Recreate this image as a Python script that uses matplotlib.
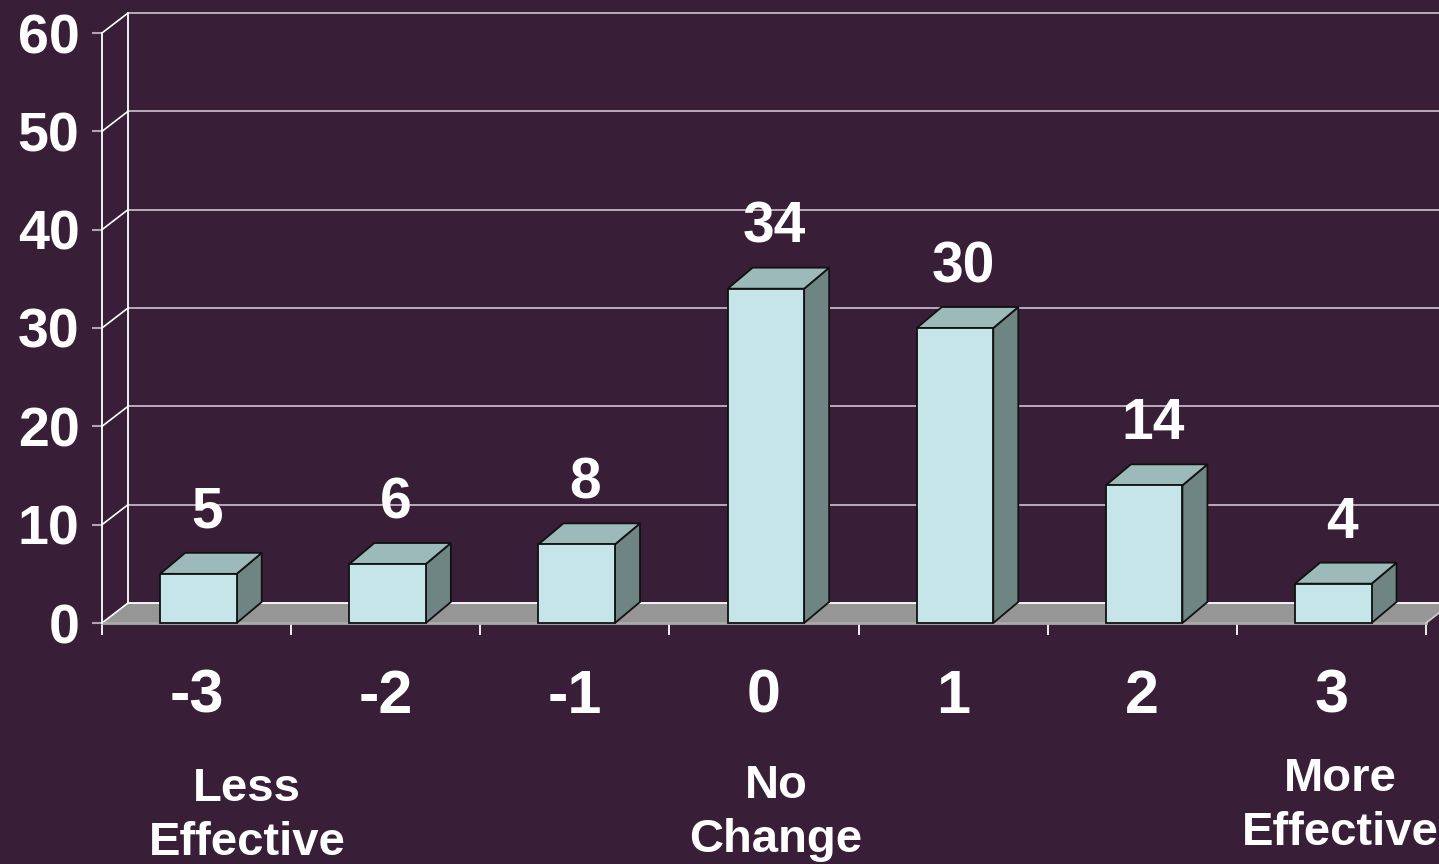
import matplotlib
matplotlib.use('Agg')
import matplotlib.pyplot as plt
from matplotlib.patches import Polygon, Rectangle
import numpy as np

plt.rcParams['font.family'] = ['Liberation Sans', 'DejaVu Sans']

# ---- data ----
categories = ['-3', '-2', '-1', '0', '1', '2', '3']
counts = [5, 6, 8, 34, 30, 14, 4]
y_ticks = [0, 10, 20, 30, 40, 50, 60]
note_lines = [['Less', 'Effective'], ['No', 'Change'], ['More', 'Effective']]

# ---- style ----
BG = '#381F37'
FRONT = '#C6E5E8'
TOP = '#9DBABB'
SIDE = '#6F8583'
FLOOR = '#969696'
GRID = '#C4B6C4'

W, H = 1439, 864
fig = plt.figure(figsize=(W / 100, H / 100), dpi=100, facecolor=BG)
ax = fig.add_axes([102 / W, (H - 623) / H, 1324 / W, 590 / H])
ax.set_xlim(-0.5, 6.5)
ax.set_ylim(0, 60)
ax.patch.set_visible(False)

px_x = 1324 / 7.0      # pixels per category
px_y = 590 / 60.0      # pixels per unit
DX, DY = 26 / px_x, 20 / px_y     # wall depth
BDX, BDY = 25 / px_x, 21 / px_y   # bar depth
BW = 76.5 / px_x

# back wall gridlines and left wall
for t in y_ticks:
    ax.plot([-0.5 + DX, 6.5 + DX], [t + DY, t + DY], color=GRID if t else 'white',
            lw=1.3, clip_on=False, zorder=1 if t else 2.5)
    ax.plot([-0.5, -0.5 + DX], [t, t + DY], color='white', lw=1.2,
            clip_on=False, zorder=2.6)
ax.plot([-0.5 + DX] * 2, [DY, 60 + DY], color='white', lw=1.3, clip_on=False, zorder=1)

# floor
ax.add_patch(Polygon([(-0.5, 0), (6.5, 0), (6.5 + DX, DY), (-0.5 + DX, DY)],
                     closed=True, fc=FLOOR, ec='none', zorder=2, clip_on=False))
ax.plot([-0.5, 6.5], [0, 0], color='#ABABAB', lw=2, zorder=2.7, clip_on=False)
ax.plot([6.5, 6.5 + DX], [0, DY], color='#D0D0D0', lw=1.2, zorder=2.7, clip_on=False)

# bars
for i, v in enumerate(counts):
    x0 = i - BW / 2 + 0.01
    ax.add_patch(Polygon([(x0 + BW, 0), (x0 + BW + BDX, BDY), (x0 + BW + BDX, v + BDY), (x0 + BW, v)],
                         closed=True, fc=SIDE, ec='#111111', lw=1.3, zorder=3, clip_on=False))
    ax.add_patch(Polygon([(x0, v), (x0 + BW, v), (x0 + BW + BDX, v + BDY), (x0 + BDX, v + BDY)],
                         closed=True, fc=TOP, ec='#111111', lw=1.3, zorder=3, clip_on=False))
    ax.add_patch(Rectangle((x0, 0), BW, v, fc=FRONT, ec='#111111', lw=1.3, zorder=3.1,
                           clip_on=False))
    ax.text(i + 0.055, v + 6.2, str(v), ha='center', va='center', fontsize=41,
            fontweight='bold', color='white', zorder=5)

# axes styling
for s in ['top', 'right', 'bottom']:
    ax.spines[s].set_visible(False)
ax.spines['left'].set_color('white')
ax.spines['left'].set_linewidth(1.3)
ax.spines['left'].set_zorder(2.8)

ax.set_yticks(y_ticks)
ax.set_yticklabels([str(t) for t in y_ticks], fontweight='bold')
ax.tick_params(axis='y', length=7.2, width=1.5, color='#B0A4B0', pad=9,
               labelsize=40, labelcolor='white')

ax.set_xticks(range(len(categories)))
ax.set_xticklabels(categories, fontweight='bold')
ax.tick_params(axis='x', which='major', length=0, pad=33, labelsize=44, labelcolor='white')
ax.set_xticks(np.arange(-0.5, 7, 1), minor=True)
ax.tick_params(axis='x', which='minor', length=8.6, width=1.3, color='white')

# notes under the axis
note_x = [247, 776, 1340]
note_base = [(801, 855), (798, 852), (791, 845)]
for lines, xx, bases in zip(note_lines, note_x, note_base):
    for txt, b in zip(lines, bases):
        fig.text(xx / W, 1 - b / H, txt, ha='center', va='baseline', fontsize=34,
                 fontweight='bold', color='white')

fig.savefig('out.png', dpi=100, facecolor=BG)
